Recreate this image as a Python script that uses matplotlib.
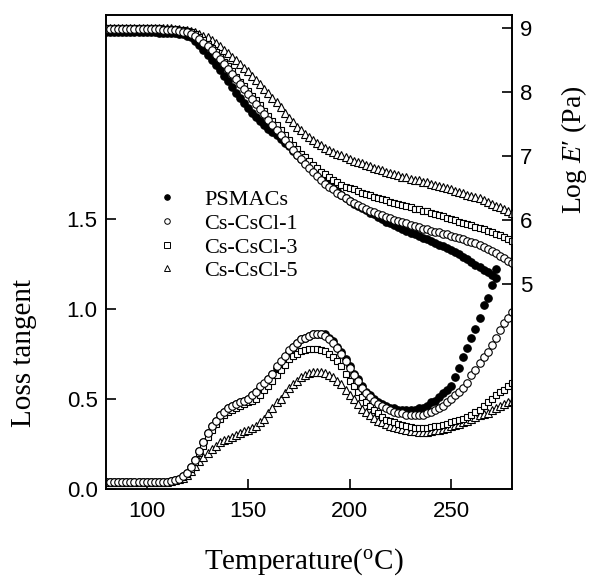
import matplotlib
matplotlib.use("Agg")
import matplotlib.pyplot as plt
import numpy as np
from matplotlib.lines import Line2D

plt.rcParams['font.family'] = ['Liberation Sans', 'DejaVu Sans']
plt.rcParams['mathtext.fontset'] = 'custom'
plt.rcParams['mathtext.rm'] = 'Liberation Serif'
plt.rcParams['mathtext.it'] = 'Liberation Serif:italic'

# temperature grid (deg C), PSMACs stops a bit earlier
temp = np.arange(80, 281, 2)
temp_ps = np.arange(80, 273, 2)

labels = ["PSMACs", "Cs-CsCl-1", "Cs-CsCl-3", "Cs-CsCl-5"]

# log E' (Pa), right axis
logE_ps = [8.93] * 10 + [
    8.93, 8.93, 8.93, 8.92, 8.92, 8.92, 8.92, 8.92, 8.91, 8.90,
    8.88, 8.85, 8.80, 8.73, 8.66, 8.58, 8.50, 8.42, 8.34, 8.25,
    8.17, 8.08, 7.99, 7.91, 7.83, 7.75, 7.68, 7.61, 7.55, 7.49,
    7.43, 7.38, 7.33, 7.27, 7.21, 7.15, 7.08, 7.01, 6.95, 6.90,
    6.84, 6.78, 6.73, 6.67, 6.61, 6.55, 6.50, 6.45, 6.40, 6.35,
    6.30, 6.26, 6.23, 6.19, 6.16, 6.12, 6.09, 6.05, 6.02, 5.98,
    5.95, 5.92, 5.89, 5.86, 5.83, 5.80, 5.78, 5.75, 5.73, 5.70,
    5.68, 5.65, 5.62, 5.60, 5.57, 5.54, 5.51, 5.47, 5.43, 5.39,
    5.35, 5.31, 5.27, 5.23, 5.19, 5.15, 5.10]
logE_1 = [8.98] * 10 + [
    8.98, 8.98, 8.98, 8.98, 8.97, 8.97, 8.97, 8.96, 8.95, 8.94,
    8.93, 8.91, 8.87, 8.82, 8.77, 8.71, 8.65, 8.58, 8.51, 8.44,
    8.36, 8.28, 8.20, 8.12, 8.05, 7.97, 7.89, 7.81, 7.73, 7.65,
    7.57, 7.49, 7.41, 7.33, 7.25, 7.17, 7.09, 7.02, 6.95, 6.88,
    6.81, 6.75, 6.69, 6.63, 6.57, 6.52, 6.48, 6.43, 6.39, 6.34,
    6.30, 6.27, 6.24, 6.21, 6.18, 6.15, 6.13, 6.10, 6.08, 6.05,
    6.03, 6.01, 5.99, 5.97, 5.95, 5.93, 5.91, 5.89, 5.87, 5.86,
    5.84, 5.82, 5.81, 5.79, 5.78, 5.76, 5.74, 5.72, 5.70, 5.68,
    5.66, 5.64, 5.61, 5.58, 5.55, 5.52, 5.49, 5.45, 5.41, 5.37,
    5.33]
logE_3 = [8.99] * 10 + [
    8.99, 8.99, 8.99, 8.99, 8.98, 8.98, 8.98, 8.98, 8.97, 8.96,
    8.95, 8.93, 8.90, 8.86, 8.81, 8.75, 8.68, 8.62, 8.54, 8.47,
    8.40, 8.32, 8.24, 8.16, 8.09, 8.02, 7.94, 7.87, 7.79, 7.71,
    7.63, 7.55, 7.48, 7.40, 7.33, 7.25, 7.18, 7.11, 7.04, 6.98,
    6.92, 6.86, 6.81, 6.76, 6.72, 6.67, 6.63, 6.59, 6.55, 6.52,
    6.50, 6.48, 6.45, 6.43, 6.41, 6.39, 6.37, 6.35, 6.33, 6.31,
    6.29, 6.27, 6.25, 6.24, 6.22, 6.20, 6.18, 6.17, 6.15, 6.14,
    6.12, 6.10, 6.08, 6.06, 6.04, 6.02, 6.00, 5.98, 5.96, 5.94,
    5.92, 5.90, 5.88, 5.86, 5.84, 5.82, 5.79, 5.77, 5.74, 5.71,
    5.68]
logE_5 = [9.00] * 10 + [
    9.00, 8.99, 8.99, 8.99, 8.99, 8.99, 8.99, 8.98, 8.98, 8.97,
    8.96, 8.95, 8.93, 8.91, 8.88, 8.85, 8.81, 8.76, 8.71, 8.66,
    8.60, 8.55, 8.50, 8.44, 8.38, 8.32, 8.25, 8.18, 8.12, 8.05,
    7.98, 7.91, 7.84, 7.76, 7.68, 7.60, 7.53, 7.46, 7.40, 7.35,
    7.30, 7.25, 7.21, 7.17, 7.13, 7.10, 7.07, 7.04, 7.01, 6.98,
    6.95, 6.93, 6.91, 6.89, 6.86, 6.84, 6.82, 6.80, 6.78, 6.76,
    6.74, 6.72, 6.70, 6.68, 6.67, 6.65, 6.63, 6.62, 6.60, 6.59,
    6.57, 6.55, 6.53, 6.52, 6.50, 6.48, 6.46, 6.44, 6.42, 6.40,
    6.38, 6.36, 6.34, 6.31, 6.29, 6.26, 6.23, 6.20, 6.18, 6.15,
    6.12]

# loss tangent, left axis
tan_ps = [0.04] * 10 + [
    0.04, 0.04, 0.04, 0.04, 0.04, 0.04, 0.045, 0.05, 0.055, 0.07,
    0.09, 0.12, 0.16, 0.21, 0.26, 0.31, 0.35, 0.38, 0.41, 0.43,
    0.45, 0.46, 0.47, 0.48, 0.49, 0.50, 0.52, 0.54, 0.56, 0.58,
    0.61, 0.64, 0.67, 0.70, 0.73, 0.76, 0.79, 0.81, 0.83, 0.84,
    0.85, 0.86, 0.86, 0.86, 0.86, 0.84, 0.82, 0.79, 0.76, 0.72,
    0.68, 0.64, 0.61, 0.57, 0.54, 0.52, 0.50, 0.48, 0.47, 0.46,
    0.45, 0.45, 0.44, 0.44, 0.44, 0.44, 0.44, 0.45, 0.45, 0.46,
    0.48, 0.49, 0.51, 0.53, 0.55, 0.57, 0.62, 0.67, 0.73, 0.78,
    0.84, 0.89, 0.95, 1.02, 1.06, 1.13, 1.22]
tan_1 = [0.04] * 10 + [
    0.04, 0.04, 0.04, 0.04, 0.04, 0.04, 0.045, 0.05, 0.055, 0.07,
    0.09, 0.12, 0.16, 0.21, 0.26, 0.31, 0.35, 0.38, 0.41, 0.43,
    0.45, 0.46, 0.47, 0.48, 0.49, 0.50, 0.52, 0.54, 0.57, 0.59,
    0.61, 0.64, 0.68, 0.71, 0.74, 0.77, 0.79, 0.81, 0.83, 0.84,
    0.85, 0.86, 0.86, 0.86, 0.85, 0.83, 0.81, 0.78, 0.75, 0.71,
    0.67, 0.63, 0.60, 0.56, 0.53, 0.51, 0.49, 0.47, 0.46, 0.45,
    0.44, 0.43, 0.42, 0.42, 0.41, 0.41, 0.41, 0.41, 0.41, 0.42,
    0.43, 0.44, 0.45, 0.46, 0.48, 0.50, 0.52, 0.54, 0.56, 0.59,
    0.63, 0.66, 0.70, 0.73, 0.76, 0.80, 0.84, 0.88, 0.92, 0.95,
    0.98]
tan_3 = [0.04] * 10 + [
    0.04, 0.04, 0.04, 0.04, 0.04, 0.04, 0.045, 0.05, 0.055, 0.065,
    0.085, 0.11, 0.15, 0.20, 0.24, 0.29, 0.33, 0.36, 0.39, 0.41,
    0.43, 0.44, 0.45, 0.46, 0.47, 0.48, 0.49, 0.50, 0.52, 0.55,
    0.57, 0.60, 0.63, 0.66, 0.69, 0.72, 0.74, 0.75, 0.765, 0.77,
    0.775, 0.775, 0.775, 0.77, 0.765, 0.75, 0.73, 0.71, 0.68, 0.64,
    0.60, 0.57, 0.54, 0.51, 0.48, 0.46, 0.44, 0.42, 0.40, 0.385,
    0.375, 0.37, 0.36, 0.355, 0.35, 0.345, 0.34, 0.34, 0.34, 0.34,
    0.345, 0.35, 0.35, 0.355, 0.36, 0.37, 0.38, 0.385, 0.39, 0.40,
    0.41, 0.43, 0.44, 0.46, 0.48, 0.50, 0.52, 0.54, 0.55, 0.57,
    0.59]
tan_5 = [0.04] * 10 + [
    0.04, 0.04, 0.04, 0.04, 0.04, 0.04, 0.045, 0.05, 0.055, 0.06,
    0.08, 0.10, 0.13, 0.155, 0.18, 0.20, 0.22, 0.24, 0.26, 0.27,
    0.28, 0.29, 0.30, 0.31, 0.32, 0.33, 0.34, 0.35, 0.37, 0.39,
    0.42, 0.45, 0.48, 0.50, 0.53, 0.56, 0.58, 0.60, 0.62, 0.635,
    0.645, 0.65, 0.65, 0.65, 0.645, 0.63, 0.62, 0.60, 0.58, 0.55,
    0.52, 0.50, 0.47, 0.445, 0.43, 0.41, 0.395, 0.38, 0.37, 0.36,
    0.35, 0.345, 0.34, 0.335, 0.33, 0.32, 0.32, 0.315, 0.315, 0.315,
    0.32, 0.325, 0.33, 0.335, 0.34, 0.35, 0.355, 0.36, 0.37, 0.38,
    0.39, 0.40, 0.41, 0.415, 0.42, 0.44, 0.45, 0.46, 0.47, 0.48,
    0.49]

styles = [dict(marker='o', mfc='black', mec='black', ms=5.4),
          dict(marker='o', mfc='white', mec='black', ms=5.4),
          dict(marker='s', mfc='white', mec='black', ms=5.0),
          dict(marker='^', mfc='white', mec='black', ms=5.6)]

fig = plt.figure(figsize=(5.9, 5.82), dpi=100)
ax1 = fig.add_axes([0.1797, 0.1598, 0.6881, 0.8144])
ax2 = ax1.twinx()

tan_sets = [(temp_ps, tan_ps), (temp, tan_1), (temp, tan_3), (temp, tan_5)]
E_sets = [(temp_ps, logE_ps), (temp, logE_1), (temp, logE_3), (temp, logE_5)]
# filled PSMACs first, open symbols drawn over it
for i in [0, 3, 2, 1]:
    x, y = tan_sets[i]
    ax1.plot(x, y, linestyle='none', mew=0.8, **styles[i])
for i in [0, 3, 2, 1]:
    x, y = E_sets[i]
    ax2.plot(x, y, linestyle='none', mew=0.8, **styles[i])

ax1.set_xlim(80, 280)
ax1.set_ylim(0, 2.63)
ax2.set_ylim(1.81, 9.2)
ax1.set_xticks([100, 150, 200, 250])
ax1.set_yticks([0, 0.5, 1.0, 1.5])
ax1.set_yticklabels(['0.0', '0.5', '1.0', '1.5'])
ax2.set_yticks([5, 6, 7, 8, 9])

for ax in (ax1, ax2):
    for s in ax.spines.values():
        s.set_linewidth(1.2)
    ax.tick_params(direction='in', length=7, width=1.2, labelsize=16, pad=6)
ax1.tick_params(axis='x', pad=9)

serif = ['Liberation Serif', 'DejaVu Serif']
ax1.set_xlabel('Temperature($^\\mathrm{o}$C)', family=serif, fontsize=21)
ax1.set_ylabel('Loss tangent', family=serif, fontsize=21)
ax2.set_ylabel("Log $\\mathit{E}$\u2032 (Pa)", family=serif, fontsize=20)
ax1.xaxis.set_label_coords(0.486, -0.12)
ax1.yaxis.set_label_coords(-0.17, 0.287)
ax2.yaxis.set_label_coords(1.115, 0.715)

handles = [Line2D([], [], linestyle='none', mew=0.7, **dict(styles[i], ms=4)) for i in range(4)]
ax2.legend(handles, labels, loc='upper left', bbox_to_anchor=(0.095, 0.655),
           frameon=False, prop={'family': serif, 'size': 16},
           handlelength=1.0, handletextpad=1.2, labelspacing=0.14, borderpad=0)

plt.savefig('out.png', dpi=100)
